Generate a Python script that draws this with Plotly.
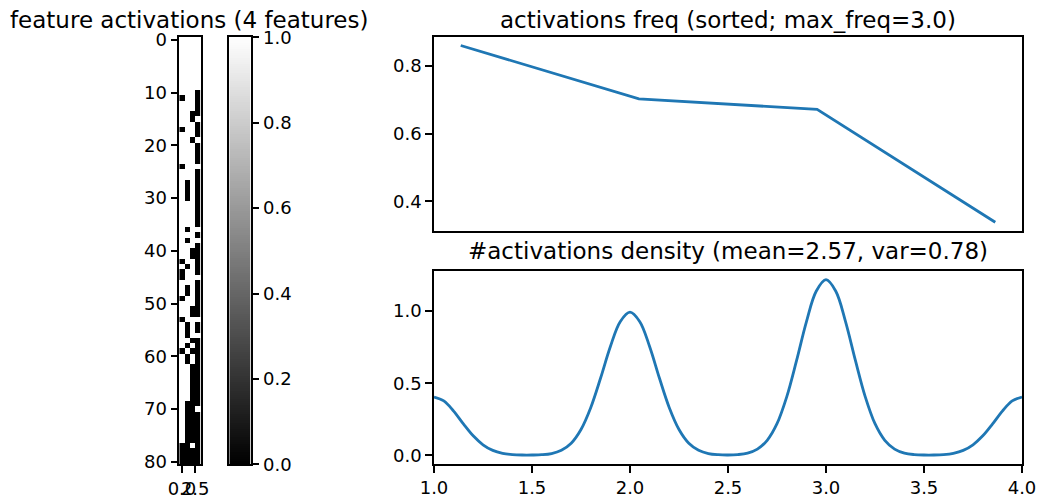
import plotly.graph_objects as go

# ---- data ----
activation_rows = (
    ["1111"] * 10 +
    ["1110", "0110", "1110", "1110", "1100", "1101", "1110", "0110", "1110", "1101",
     "1110", "1110", "1110", "1110", "0111", "1110", "1110", "1010", "1010", "1010",
     "1010", "1110", "1110", "1110", "1110", "1110", "1011", "1110", "1011", "1110",
     "1100", "1100", "0110", "1010", "0110", "0111", "1110", "1010", "1010", "0110",
     "1110", "1100", "1100", "0111", "1010", "1010", "1011", "1100", "1010", "0100",
     "1010", "1010", "1100", "1100", "1100", "1100", "1100", "1100", "1100", "1000",
     "1001", "1000", "1000", "1000", "1000", "1000", "1000", "0010", "0000", "0000",
     "0000"]
)
feature_idx = [0, 1, 2, 3]

freq_x = [0, 1, 2, 3]
freq_sorted = [0.861, 0.703, 0.672, 0.338]

density_x = [1.00, 1.05, 1.10, 1.15, 1.20, 1.25, 1.30, 1.35, 1.40, 1.45,
             1.50, 1.55, 1.60, 1.65, 1.70, 1.75, 1.80, 1.85, 1.90, 1.95,
             2.00, 2.05, 2.10, 2.15, 2.20, 2.25, 2.30, 2.35, 2.40, 2.45,
             2.50, 2.55, 2.60, 2.65, 2.70, 2.75, 2.80, 2.85, 2.90, 2.95,
             3.00, 3.05, 3.10, 3.15, 3.20, 3.25, 3.30, 3.35, 3.40, 3.45,
             3.50, 3.55, 3.60, 3.65, 3.70, 3.75, 3.80, 3.85, 3.90, 3.95, 4.00]
density_y = [0.404, 0.377, 0.307, 0.218, 0.135, 0.073, 0.034, 0.014, 0.005, 0.002,
             0.002, 0.004, 0.012, 0.035, 0.084, 0.179, 0.332, 0.536, 0.755, 0.927,
             0.993, 0.927, 0.755, 0.536, 0.332, 0.179, 0.084, 0.035, 0.012, 0.004,
             0.002, 0.005, 0.015, 0.043, 0.104, 0.219, 0.407, 0.658, 0.926, 1.138,
             1.218, 1.138, 0.926, 0.658, 0.407, 0.219, 0.104, 0.043, 0.015, 0.005,
             0.002, 0.002, 0.005, 0.014, 0.034, 0.073, 0.135, 0.218, 0.307, 0.377, 0.404]

colorbar_ticks = [0.0, 0.2, 0.4, 0.6, 0.8, 1.0]

title_left = "feature activations (4 features)"
title_top = "activations freq (sorted; max_freq=3.0)"
title_bottom = "#activations density (mean=2.57, var=0.78)"

matrix = [[int(c) for c in r] for r in activation_rows]
# colour-scale strip for the colorbar (0 -> 1)
cb_levels = [i / 200 for i in range(201)]

W, H = 1042, 501
FONT = "DejaVu Sans"
BLUE = "#1f77b4"
TICK = 18
TITLE = 23
GRAY = [[0, "black"], [1, "white"]]


def px_x(a, b):
    return [a / W, b / W]


def px_y(top, bottom):
    return [1 - bottom / H, 1 - top / H]


axis_common = dict(showline=True, mirror=True, linecolor="black", linewidth=1.5,
                   ticklen=7, tickwidth=1.5, tickcolor="black", automargin=False,
                   showgrid=False, zeroline=False, tickangle=0,
                   tickfont=dict(family=FONT, size=TICK, color="black"))

fig = go.Figure()

fig.add_trace(go.Heatmap(
    z=matrix, x=feature_idx, y=list(range(len(matrix))),
    colorscale=GRAY, zmin=0, zmax=1, showscale=False,
    xaxis="x", yaxis="y", hoverinfo="skip",
))

fig.add_trace(go.Heatmap(
    z=[[v] for v in cb_levels], x=[0], y=cb_levels,
    colorscale=GRAY, zmin=0, zmax=1, showscale=False,
    xaxis="x4", yaxis="y4", hoverinfo="skip",
))

fig.add_trace(go.Scatter(x=freq_x, y=freq_sorted, mode="lines",
                         line=dict(color=BLUE, width=2.8),
                         xaxis="x2", yaxis="y2", showlegend=False))

fig.add_trace(go.Scatter(x=density_x, y=density_y, mode="lines",
                         line=dict(color=BLUE, width=2.8, shape="spline", smoothing=1.0),
                         xaxis="x3", yaxis="y3", showlegend=False))

fig.update_layout(
    width=W, height=H,
    margin=dict(l=0, r=0, t=0, b=0, autoexpand=False),
    paper_bgcolor="white", plot_bgcolor="white",
    showlegend=False,
    font=dict(family=FONT, color="black"),
    xaxis=dict(domain=px_x(179.3, 200.5), range=[-0.5, 3.5], ticks="outside",
               tickvals=[0, 2.5], ticktext=["0.0", "2.5"], anchor="y", **axis_common),
    yaxis=dict(domain=px_y(37.3, 464.3), range=[80.5, -0.5], ticks="outside",
               tickvals=list(range(0, 81, 10)), anchor="x", **axis_common),
    xaxis4=dict(domain=px_x(229.3, 250.7), range=[-0.5, 0.5], anchor="y4",
                showticklabels=False, ticks="", **axis_common),
    yaxis4=dict(domain=px_y(37.3, 464.3), range=[0, 1], anchor="x4", side="right",
                ticks="outside", tickvals=colorbar_ticks, tickformat=".1f", **axis_common),
    xaxis2=dict(domain=px_x(434, 1022), range=[-0.15, 3.15], anchor="y2",
                showticklabels=False, ticks="", **axis_common),
    yaxis2=dict(domain=px_y(36.7, 231), range=[0.312, 0.887], anchor="x2", ticks="outside",
                tickvals=[0.4, 0.6, 0.8], tickformat=".1f", **axis_common),
    xaxis3=dict(domain=px_x(434, 1022), range=[1, 4], anchor="y3", ticks="outside",
                tickvals=[1.0, 1.5, 2.0, 2.5, 3.0, 3.5, 4.0], tickformat=".1f", **axis_common),
    yaxis3=dict(domain=px_y(271, 464), range=[-0.0604, 1.2785], anchor="x3", ticks="outside",
                tickvals=[0.0, 0.5, 1.0], tickformat=".1f", **axis_common),
    annotations=[
        dict(text=title_left, x=189 / W, y=1 - 19.5 / H, xref="paper", yref="paper",
             showarrow=False, font=dict(family=FONT, size=TITLE, color="black"),
             xanchor="center", yanchor="middle"),
        dict(text=title_top, x=728 / W, y=1 - 19.5 / H, xref="paper", yref="paper",
             showarrow=False, font=dict(family=FONT, size=TITLE, color="black"),
             xanchor="center", yanchor="middle"),
        dict(text=title_bottom, x=728 / W, y=1 - 251 / H, xref="paper", yref="paper",
             showarrow=False, font=dict(family=FONT, size=TITLE, color="black"),
             xanchor="center", yanchor="middle"),
    ],
)

fig.write_html("out.html", config={"displayModeBar": False},
               post_script="document.body.style.margin='0';document.body.style.overflow='hidden';")
